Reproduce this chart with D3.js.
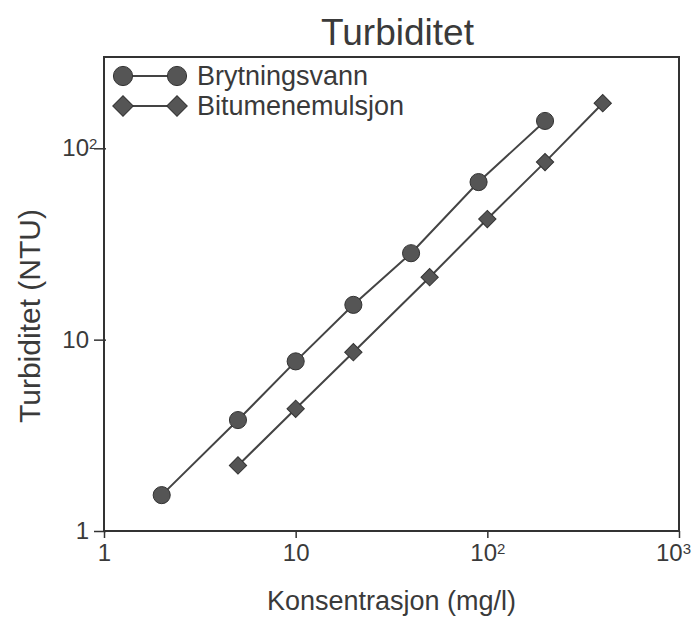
<!DOCTYPE html>
<meta charset="utf-8">
<style>
body { margin: 0; background: #fff; }
text { font-family: "Liberation Sans", Arial, sans-serif; fill: #3a3a3a; }
.frame { fill: none; stroke: #333; stroke-width: 2; }
.tick line { stroke: #333; stroke-width: 1.5; }
.series { fill: none; stroke: #444; stroke-width: 2; }
.mark { fill: #555; stroke: #333; stroke-width: 1; }
</style>
<svg width="698" height="619"></svg>
<script src="https://cdn.jsdelivr.net/npm/d3@7"></script>
<script>

// data
var seriesNames = ["Brytningsvann", "Bitumenemulsjon"];
var brytX = [2, 5, 10, 20, 40, 90, 200];
var brytY = [1.54, 3.8, 7.7, 15.2, 28.3, 66.6, 139];
var bitX = [5, 10, 20, 50, 100, 200, 400];
var bitY = [2.2, 4.35, 8.6, 21.2, 42.7, 84.7, 172];
var xTicks = [1, 10, 100, 1000];
var xTickLabels = [["1", ""], ["10", ""], ["10", "2"], ["10", "3"]];
var yTicks = [1, 10, 100];
var yTickLabels = [["1", ""], ["10", ""], ["10", "2"]];

var svg = d3.select("svg");

var margin = {left: 104, right: 19, top: 57, bottom: 88};
var width = 698 - margin.left - margin.right,
    height = 619 - margin.top - margin.bottom;

var x = d3.scaleLog().domain([1, 1000]).range([0, width]);
var y = d3.scaleLog().domain([1, 300]).range([height, 0]);

var g = svg.append("g").attr("transform", "translate(" + margin.left + "," + margin.top + ")");

g.append("rect").attr("class", "frame").attr("width", width).attr("height", height);

function supLabel(sel, labels) {
  sel.each(function(d, i) {
    var t = d3.select(this).text(null);
    t.append("tspan").text(labels[i][0]);
    if (labels[i][1]) t.append("tspan").attr("dy", "-0.5em").style("font-size", "15px").text(labels[i][1]);
  });
}

var xAxis = g.append("g")
    .attr("transform", "translate(0," + height + ")")
    .call(d3.axisBottom(x).tickValues(xTicks).tickSize(7).tickPadding(6));
xAxis.select(".domain").remove();
xAxis.selectAll("text").style("font-size", "24px").call(supLabel, xTickLabels);
xAxis.selectAll(".tick text").attr("dx", function(d, i) { return i == 3 ? "-0.25em" : 0; });

var yAxis = g.append("g")
    .call(d3.axisLeft(y).tickValues(yTicks).tickSize(10).tickPadding(5));
yAxis.select(".domain").remove();
yAxis.selectAll("text").style("font-size", "24px").call(supLabel, yTickLabels);
yAxis.selectAll(".tick line").attr("x2", -10).attr("x1", 2);
yAxis.selectAll(".tick text").filter(function(d, i) { return i == 2; }).attr("dx", "0.35em");

var line = d3.line().x(function(d) { return x(d[0]); }).y(function(d) { return y(d[1]); });

var bryt = d3.zip(brytX, brytY);
var bit = d3.zip(bitX, bitY);

g.append("path").attr("class", "series").attr("d", line(bryt));
g.append("path").attr("class", "series").attr("d", line(bit));

var circ = d3.symbol().type(d3.symbolCircle).size(230);
var diam = d3.symbol().type(d3.symbolSquare).size(150);
var circL = d3.symbol().type(d3.symbolCircle).size(290);
var diamL = d3.symbol().type(d3.symbolSquare).size(210);

g.selectAll(".c").data(bryt).enter().append("path")
    .attr("class", "mark")
    .attr("d", circ)
    .attr("transform", function(d) { return "translate(" + x(d[0]) + "," + y(d[1]) + ")"; });

g.selectAll(".d").data(bit).enter().append("path")
    .attr("class", "mark")
    .attr("d", diam)
    .attr("transform", function(d) { return "translate(" + x(d[0]) + "," + y(d[1]) + ") rotate(45)"; });

// legend
var leg = g.append("g").attr("transform", "translate(19,19)");
[circL, diamL].forEach(function(sym, i) {
  var row = leg.append("g").attr("transform", "translate(0," + i * 30 + ")");
  row.append("line").attr("class", "series").attr("x1", 0).attr("x2", 54);
  [0, 54].forEach(function(px) {
    row.append("path").attr("class", "mark").attr("d", sym)
      .attr("transform", "translate(" + px + ",0)" + (i ? " rotate(45)" : ""));
  });
  row.append("text").attr("x", 74).attr("y", 9).style("font-size", "27px").text(seriesNames[i]);
});

svg.append("text").attr("x", margin.left + width / 2 + 6).attr("y", 45)
    .attr("text-anchor", "middle").style("font-size", "37px").text("Turbiditet");

svg.append("text").attr("x", margin.left + width / 2).attr("y", 610)
    .attr("text-anchor", "middle").style("font-size", "27px").text("Konsentrasjon (mg/l)");

svg.append("text").attr("transform", "translate(40,316) rotate(-90)")
    .attr("text-anchor", "middle").style("font-size", "30px").text("Turbiditet (NTU)");

</script>
